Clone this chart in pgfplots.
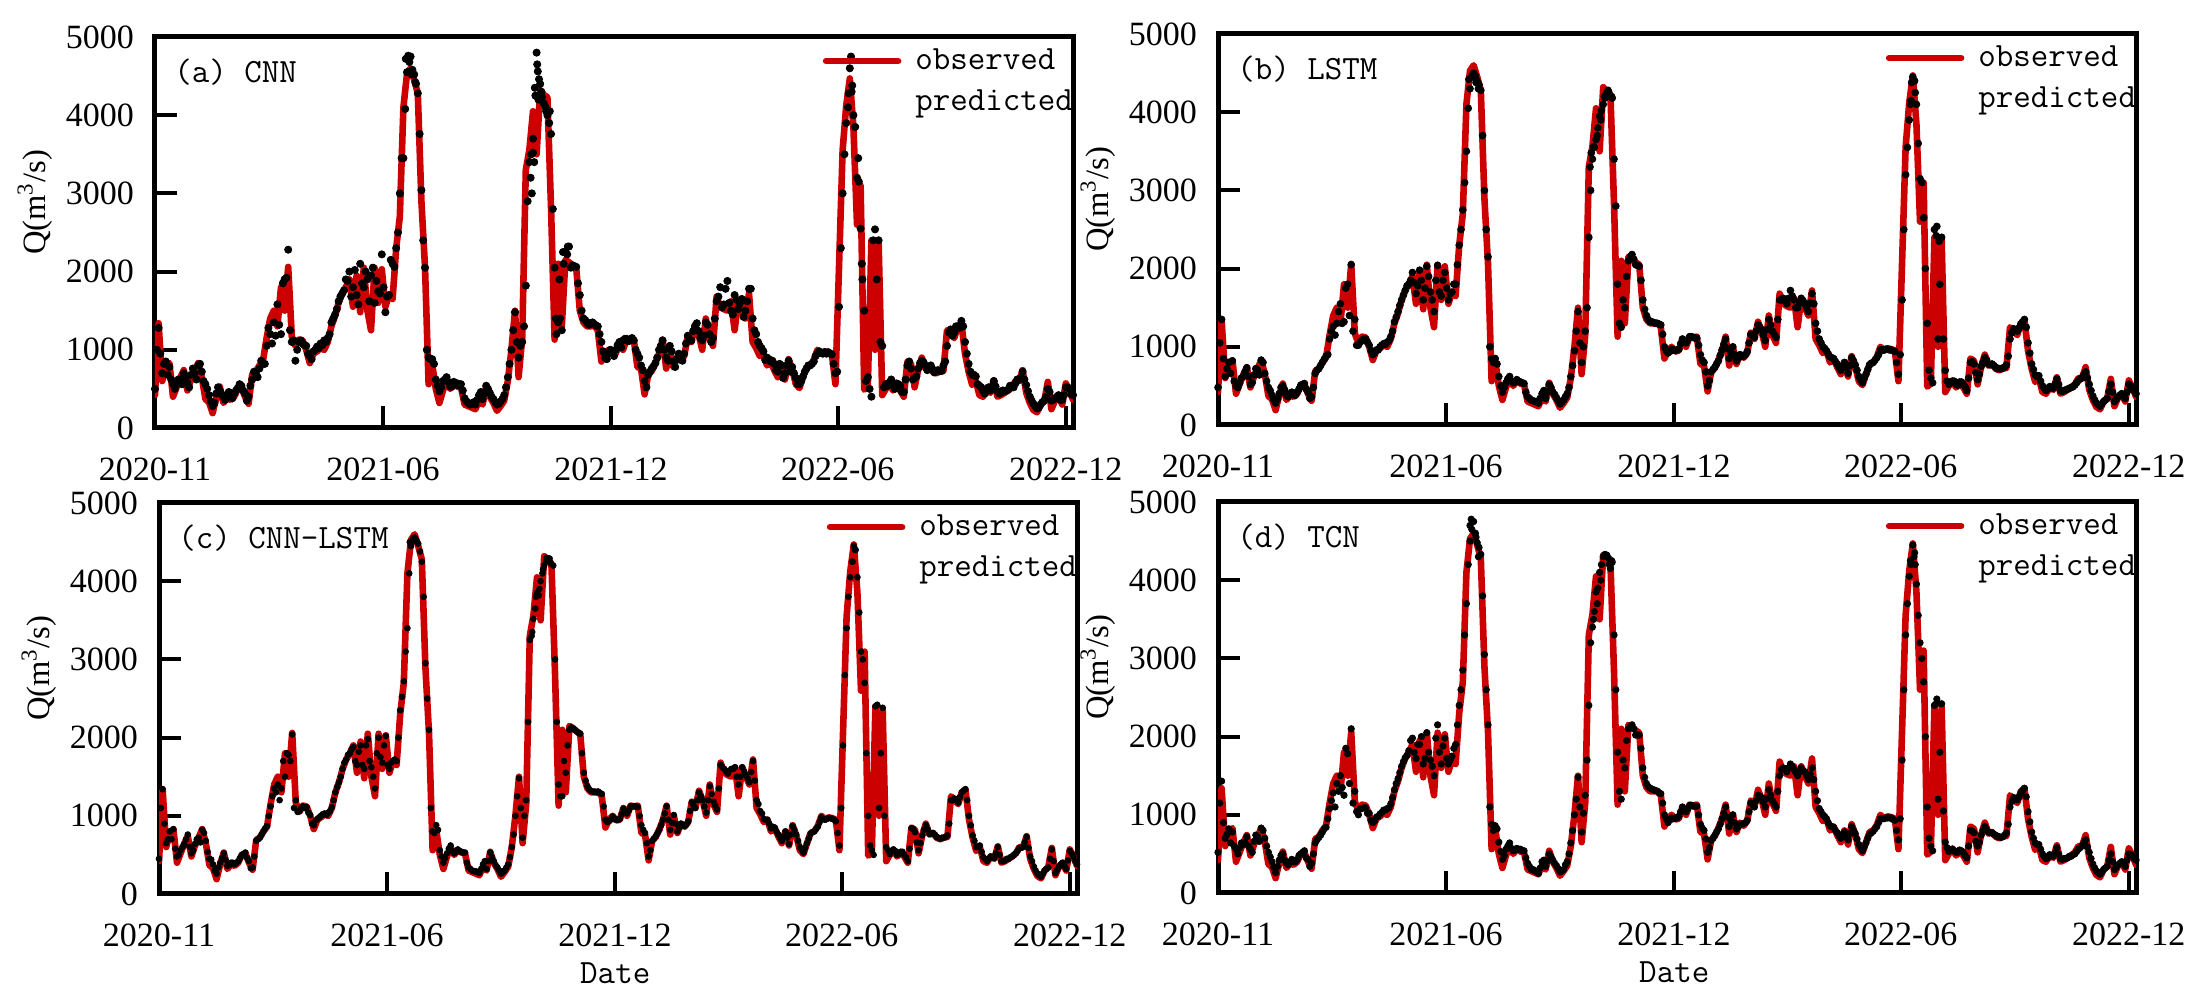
\documentclass[border=0pt]{standalone}
\usepackage{fontspec}
\usepackage{pgfplots}
\usepackage{pgfplotstable}
\pgfplotsset{compat=1.18}
\newfontfamily\tnr{Liberation Serif}
\definecolor{obsred}{RGB}{204,0,0}
\pgfplotstableread{
day obs a b c d
0 420 500 480 450 520
3 1340 1280 1350 1340 1430
6 600 700 620 650 700
9 780 850 800 800 820
12 830 780 820 830 780
15 400 560 500 480 560
18 520 560 540 560 580
21 640 620 620 640 620
24 740 700 730 760 720
27 480 580 520 520 560
30 620 680 640 640 660
33 720 700 700 720 720
36 830 800 830 820 830
39 650 720 660 680 700
42 370 560 480 450 520
45 330 420 380 380 400
48 190 280 280 260 260
51 380 440 400 400 420
54 530 480 500 520 500
57 320 400 380 360 380
60 380 400 400 400 400
63 360 420 390 380 400
66 400 440 420 420 430
69 500 510 510 500 500
72 520 540 530 530 540
75 400 440 420 420 430
78 310 400 360 340 380
81 690 620 660 680 640
84 720 700 720 720 710
87 800 760 800 800 780
90 860 820 880 870 840
93 1150 1050 1100 1120 1080
96 1400 1200 1260 1350 1280
99 1500 1350 1300 1400 1400
102 1300 1580 1550 1350 1500
105 1800 1200 1320 1500 1250
108 1500 1900 1800 1780 1780
111 2060 2280 2050 2040 2100
114 1170 1100 1350 1200 1300
117 1050 860 1020 1060 1000
120 1130 1100 1080 1120 1080
123 1120 1080 1100 1110 1090
126 1000 1050 1020 1010 1020
129 830 920 900 880 900
132 950 980 960 960 970
135 980 1040 1000 1000 1010
138 1020 1080 1040 1030 1060
141 1000 1120 1060 1040 1080
144 1100 1150 1130 1110 1140
147 1300 1350 1320 1300 1320
150 1430 1450 1450 1430 1460
153 1600 1620 1600 1600 1620
156 1720 1720 1720 1720 1730
159 1800 1900 1800 1800 1820
162 1900 2000 1950 1880 1980
165 1550 1800 1680 1650 1720
168 1950 1700 1980 1900 1900
171 1480 2100 1600 1600 1650
174 2050 1800 2030 1980 2050
177 1500 1900 1700 1620 1700
180 1250 1950 1450 1350 1500
183 2050 1600 2040 2000 2150
186 1600 1750 1650 1680 1650
189 2030 2220 1950 2020 1980
192 1550 1480 1600 1600 1650
195 1700 1700 1700 1700 1750
198 1650 2100 1800 1700 1900
201 2300 2300 2300 2350 2400
204 2700 3000 2750 2720 2850
207 4100 3450 3500 3400 3700
210 4530 4550 4300 4450 4500
213 4600 4750 4500 4560 4750
216 4450 4520 4400 4480 4480
219 4280 4280 4280 4250 4330
222 2900 3040 3000 2950 3050
225 2060 2050 2150 2100 2150
228 560 900 850 800 880
231 820 880 850 880 860
234 500 620 620 560 650
237 320 470 420 400 430
240 480 600 540 520 560
243 600 650 620 620 640
246 500 530 540 520 540
249 560 590 580 570 570
252 530 570 550 540 560
255 520 560 530 530 540
258 300 380 360 340 380
261 280 320 320 300 300
264 260 310 300 290 280
267 240 300 280 270 250
270 350 420 400 380 400
273 300 370 340 320 340
276 540 540 520 530 500
279 400 450 420 420 420
282 320 370 350 340 350
285 220 300 270 260 270
288 280 340 320 300 300
291 350 420 400 380 400
294 600 650 620 600 640
297 1000 1000 950 1000 1000
300 1500 1480 1450 1480 1480
303 650 900 800 720 780
306 1150 1100 1200 1200 1250
309 3300 1820 2400 3250 2400
312 3560 3400 3400 3520 3400
315 4050 3700 3650 3850 3850
318 3500 4800 3950 4000 4100
321 4320 4400 4100 4200 4300
324 4260 4150 4250 4280 4320
327 4230 4000 4200 4220 4150
330 2830 3760 3400 3000 3300
333 1130 2050 1800 1400 1800
336 2100 1350 1250 1250 1200
339 1300 1250 1500 1550 1600
342 2150 2250 2100 2100 2100
345 2120 2320 2180 2120 2150
348 2080 2080 2050 2080 2020
351 2050 2060 2030 2050 2020
354 1500 1700 1600 1550 1600
357 1350 1400 1400 1380 1400
360 1300 1350 1320 1320 1340
363 1300 1340 1310 1310 1320
366 1310 1330 1300 1310 1300
369 1250 1300 1280 1280 1270
372 850 1100 1000 950 1000
375 950 900 920 930 900
378 1000 950 970 990 960
381 940 980 950 950 960
384 950 1000 970 960 980
387 1100 1100 1100 1090 1100
390 1000 1120 1050 1030 1040
393 1130 1140 1130 1120 1120
396 1120 1120 1120 1120 1110
399 1130 1120 1110 1110 1110
402 780 950 900 880 880
405 760 800 800 780 800
408 430 600 500 480 520
411 680 680 680 680 670
414 730 760 740 740 740
417 830 830 820 820 820
420 950 1000 960 950 950
423 1130 1120 1100 1120 1100
426 760 900 850 820 850
429 1000 1050 1000 1010 1000
432 780 850 820 800 820
435 900 880 900 900 880
438 860 920 880 870 890
441 920 950 940 930 930
444 1180 1180 1160 1170 1150
447 1100 1120 1120 1100 1100
450 1320 1300 1280 1300 1250
453 1200 1240 1220 1200 1220
456 1000 1120 1080 1040 1100
459 1400 1350 1350 1380 1320
462 1150 1200 1200 1180 1180
465 1050 1150 1120 1080 1100
468 1680 1620 1600 1650 1500
471 1550 1800 1620 1600 1600
474 1520 1580 1550 1540 1550
477 1500 1880 1720 1600 1650
480 1620 1500 1600 1620 1580
483 1250 1700 1500 1400 1500
486 1620 1520 1620 1620 1600
489 1500 1650 1550 1520 1550
492 1400 1500 1450 1430 1450
495 1720 1780 1680 1700 1600
498 1100 1400 1300 1200 1300
501 1020 1200 1100 1060 1080
504 920 1050 1000 960 1000
507 950 980 950 950 950
510 800 900 870 840 860
513 850 850 850 850 840
516 740 820 780 760 770
519 650 720 700 680 700
522 800 800 800 800 780
525 620 700 660 640 680
528 880 860 860 870 850
531 750 780 770 760 760
534 560 640 620 600 620
537 510 560 540 530 540
540 650 660 650 650 640
543 780 760 770 770 750
546 800 800 800 800 790
549 870 850 860 860 850
552 1000 950 960 980 950
555 950 960 960 950 950
558 980 970 970 970 960
561 970 970 960 960 960
564 950 940 940 930 930
567 560 700 650 620 680
570 2060 1550 1600 1900 1700
573 3550 3000 3200 3400 3300
576 4120 3900 3900 4050 4050
579 4470 4600 4450 4450 4450
582 3850 4000 4100 4050 3950
585 2600 3200 3150 3100 3200
588 3100 2550 2650 2700 2700
591 490 1500 1300 1000 1100
594 530 650 600 560 600
597 2400 400 2500 2400 2400
600 1000 2540 1100 1100 1200
603 2380 2400 2400 2380 2420
606 420 1050 700 600 650
609 500 560 520 510 530
612 570 580 560 570 560
615 480 540 520 500 520
618 530 570 550 540 550
621 480 540 520 500 520
624 400 460 440 420 450
627 850 800 800 840 800
630 820 760 780 790 770
633 520 640 580 560 600
636 750 760 750 750 740
639 900 860 860 880 850
642 760 800 780 770 780
645 780 780 780 780 770
648 720 750 740 730 740
651 700 730 720 710 720
654 720 730 730 720 720
657 730 800 770 750 770
660 1250 1050 1100 1200 1100
663 1200 1260 1230 1220 1220
666 1150 1220 1200 1170 1190
669 1300 1300 1290 1300 1280
672 1340 1370 1350 1340 1340
675 950 1100 1050 1000 1040
678 720 820 780 750 780
681 550 680 640 600 640
684 600 660 630 620 620
687 420 540 500 470 500
690 400 470 440 420 440
693 480 500 490 480 490
696 450 480 470 460 470
699 610 600 590 600 580
702 400 470 440 420 440
705 420 450 440 430 440
708 450 470 460 450 450
711 480 490 480 480 470
714 520 520 510 520 500
717 600 570 570 590 560
720 600 620 600 600 600
723 740 720 680 730 680
726 450 550 520 480 520
729 320 400 370 350 370
732 230 310 280 260 280
735 200 250 240 220 240
738 300 300 300 300 300
741 340 350 340 340 340
744 590 500 520 570 500
747 240 350 300 270 300
750 350 380 360 350 360
753 400 420 400 400 400
756 300 360 340 320 340
759 570 520 520 550 500
762 480 500 480 480 480
765 360 420 400 380 420
}\dataT
\pgfplotstableread{
day a b c d
1.5 1000 1050 1100 1150
4.5 950 850 900 900
7.5 820 720 700 750
10.5 680 660 700 640
13.5 620 560 580 600
16.5 500 480 500 500
19.5 620 600 600 640
22.5 560 680 700 650
25.5 640 620 600 600
28.5 520 540 560 520
31.5 760 720 700 740
34.5 620 640 660 660
37.5 820 800 780 800
40.5 600 560 540 600
43.5 500 440 440 460
46.5 340 320 300 330
49.5 320 330 340 340
52.5 520 480 460 480
55.5 430 450 440 420
58.5 360 360 370 360
61.5 460 420 400 430
64.5 380 380 400 400
67.5 480 460 460 480
70.5 560 520 510 520
73.5 480 460 460 450
76.5 350 340 330 340
79.5 540 480 480 500
82.5 720 700 700 680
85.5 650 760 760 740
88.5 860 840 840 820
91.5 820 900 1000 950
94.5 1280 1200 1250 1180
97.5 1080 1150 1300 1100
100.5 1180 1450 1200 1300
103.5 1320 1300 1700 1350
106.5 1850 1750 1800 1850
109.5 1920 1400 1700 1400
112.5 1250 1200 1100 1150
115.5 1120 1020 1050 1040
118.5 1000 1060 1100 1080
121.5 1120 1100 1100 1090
124.5 1060 1060 1040 1020
127.5 950 950 900 930
130.5 880 920 940 920
133.5 1000 960 980 980
136.5 1020 1020 1020 1030
139.5 1060 1030 1010 1060
142.5 1100 1080 1060 1090
145.5 1200 1200 1200 1220
148.5 1400 1380 1370 1400
151.5 1520 1530 1500 1540
154.5 1680 1660 1680 1680
157.5 1760 1780 1780 1760
160.5 1880 1850 1850 1950
163.5 1680 1820 1700 1800
166.5 2020 1780 1820 1900
169.5 1580 1850 1650 2000
172.5 1850 1750 1900 1720
175.5 2000 1900 1700 1800
178.5 1620 1600 1500 1620
181.5 2050 1850 1800 1980
184.5 1880 1700 1750 1800
187.5 1720 1850 1900 1880
190.5 1800 1750 1650 1720
193.5 1680 1680 1680 1700
196.5 2150 1800 1720 1850
199.5 2060 2050 2000 2150
202.5 2500 2500 2520 2600
205.5 3450 3100 3100 3300
208.5 4080 4050 4100 4200
211.5 4550 4450 4520 4650
214.5 4580 4460 4520 4600
217.5 4400 4350 4380 4420
220.5 3760 3700 3800 3800
223.5 2400 2500 2500 2600
226.5 1000 1000 1100 1100
229.5 880 800 780 800
232.5 820 780 820 820
235.5 540 500 480 530
238.5 520 480 460 480
241.5 620 590 580 600
244.5 590 560 550 570
247.5 530 550 540 550
250.5 560 560 550 560
253.5 540 540 530 540
256.5 480 420 400 450
259.5 340 340 320 340
262.5 300 310 290 300
265.5 330 300 280 280
268.5 360 340 320 320
271.5 460 440 420 420
274.5 440 420 420 410
277.5 500 480 470 460
280.5 400 390 370 380
283.5 330 310 300 310
286.5 310 290 280 280
289.5 370 360 340 360
292.5 520 480 470 500
295.5 820 760 760 800
298.5 1250 1200 1250 1200
301.5 1100 1050 1100 1100
304.5 1050 1000 1000 1020
307.5 1300 1500 2200 1700
310.5 2900 3000 3300 3200
313.5 3500 3550 3650 3600
316.5 4350 3800 3820 3900
319.5 4200 4020 4100 4200
322.5 4230 4180 4250 4330
325.5 4100 4260 4290 4280
328.5 3900 4180 4200 4230
331.5 2800 2800 2200 2600
334.5 1200 1300 1250 1300
337.5 1400 1600 1700 1700
340.5 2100 1900 1900 1950
343.5 2220 2130 2130 2130
346.5 2050 2120 2100 2100
349.5 2070 2040 2060 2020
352.5 1850 1850 1800 1850
355.5 1500 1480 1450 1480
358.5 1380 1350 1340 1360
361.5 1320 1320 1310 1330
364.5 1350 1300 1300 1310
367.5 1310 1290 1290 1280
370.5 1200 1160 1120 1150
373.5 980 950 920 950
376.5 880 940 950 930
379.5 1000 960 960 950
382.5 920 960 950 960
385.5 1060 1040 1020 1040
388.5 1030 1080 1060 1070
391.5 1140 1090 1070 1080
394.5 1110 1130 1120 1120
397.5 1150 1110 1120 1110
400.5 1000 1020 1000 1000
403.5 900 830 820 830
406.5 740 680 650 690
409.5 520 570 560 580
412.5 720 710 710 700
415.5 790 780 780 780
418.5 900 890 880 880
421.5 1050 1030 1030 1020
424.5 1000 980 950 970
427.5 860 920 910 920
430.5 980 900 900 900
433.5 780 860 850 850
436.5 950 880 880 880
439.5 860 900 890 900
442.5 1080 1050 1060 1040
445.5 1120 1140 1130 1130
448.5 1240 1200 1200 1180
451.5 1340 1250 1250 1240
454.5 1150 1150 1120 1160
457.5 1180 1220 1200 1210
460.5 1320 1280 1280 1250
463.5 1100 1160 1130 1140
466.5 1400 1350 1350 1300
469.5 1680 1600 1620 1580
472.5 1540 1580 1570 1580
475.5 1780 1620 1580 1600
478.5 1600 1650 1600 1620
481.5 1450 1500 1500 1540
484.5 1640 1560 1500 1550
487.5 1590 1590 1570 1570
490.5 1420 1500 1480 1500
493.5 1620 1560 1560 1520
496.5 1780 1550 1450 1450
499.5 1250 1200 1150 1180
502.5 1100 1050 1030 1040
505.5 1020 980 950 980
508.5 870 910 900 900
511.5 880 860 860 850
514.5 860 810 800 800
517.5 740 740 720 730
520.5 820 750 740 750
523.5 640 730 720 720
526.5 800 760 760 760
529.5 720 820 820 800
532.5 700 700 680 690
535.5 560 580 570 580
538.5 600 600 590 590
541.5 720 710 710 700
544.5 800 790 790 770
547.5 820 830 830 820
550.5 920 900 920 900
553.5 980 960 960 950
556.5 950 970 960 960
559.5 950 960 970 960
562.5 950 950 950 940
565.5 820 800 780 800
568.5 720 900 1100 950
571.5 2300 2500 2800 2600
574.5 3500 3550 3800 3700
577.5 4100 4150 4250 4200
580.5 4300 4400 4400 4350
583.5 3850 3600 3600 3550
586.5 3150 3100 3000 3000
589.5 1900 2000 1800 2000
592.5 600 700 620 700
595.5 500 540 500 540
598.5 2400 2420 2420 2420
601.5 1900 1800 1800 1800
604.5 1100 1100 1000 1050
607.5 520 560 560 580
610.5 540 540 540 550
613.5 620 560 550 540
616.5 500 510 510 520
619.5 560 550 540 540
622.5 460 490 470 480
625.5 620 600 580 600
628.5 850 810 830 790
631.5 620 670 660 660
634.5 660 650 650 650
637.5 830 800 820 800
640.5 840 830 830 810
643.5 740 770 770 770
646.5 800 760 760 750
649.5 710 720 720 720
652.5 740 720 720 710
655.5 730 740 730 740
658.5 850 880 900 880
661.5 1220 1180 1200 1170
664.5 1180 1220 1200 1210
667.5 1300 1240 1240 1230
670.5 1280 1320 1320 1310
673.5 1300 1250 1200 1230
676.5 950 920 880 910
679.5 720 710 680 700
682.5 680 620 600 620
685.5 560 560 540 560
688.5 520 470 450 470
691.5 440 460 450 450
694.5 520 480 470 480
697.5 530 520 520 510
700.5 530 520 500 500
703.5 440 430 420 430
706.5 480 450 450 440
709.5 480 470 470 470
712.5 540 490 500 490
715.5 520 540 550 530
718.5 620 590 590 580
721.5 640 640 660 640
724.5 620 600 590 590
727.5 470 440 420 440
730.5 350 320 300 320
733.5 280 260 240 260
736.5 260 270 260 270
739.5 330 320 320 320
742.5 400 430 450 420
745.5 460 420 420 400
748.5 360 330 310 330
751.5 400 380 380 380
754.5 360 370 360 370
757.5 420 420 430 420
760.5 520 500 520 490
763.5 430 440 420 440
}\dataU
\pgfplotstableread{
d v
317 4250
318.5 4650
319 4560
320 4460
315 3520
313 3200
314 3000
316 3400
322 4300
326 4050
329 4050
209 4720
211 4760
212 4680
214 4520
217 4420
344 2320
340 2250
337 1900
334 1400
580 4750
581 4380
586 3450
578 4280
589 2100
}\extraA
\pgfplotstableread{
d v
310 3300
311 3480
313 3560
316 3700
319 3900
322 4200
325 4280
328 4200
209 4420
212 4480
215 4380
217 4300
578 4380
577 4100
581 4250
599 2540
601 2350
344 2160
}\extraB
\pgfplotstableread{
d v
311 3350
314 3800
317 3900
320 4150
323 4300
326 4240
209 4500
212 4550
215 4500
578 4250
580 4400
}\extraC
\pgfplotstableread{
d v
210 4700
211 4780
214 4600
215 4550
217 4300
313 3500
316 3700
319 4000
322 4320
326 4200
328 4250
577 4250
580 4300
581 4200
599 2480
}\extraD
\newcommand{\mono}{\fontsize{17}{19}\selectfont\ttfamily}
\pgfplotsset{
  panel/.style={
    scale only axis, width=459pt, height=195.5pt, anchor=south west,
    xmin=0, xmax=765, ymin=0, ymax=5000,
    xtick={0,190,380,569,759},
    xticklabels={2020-11,2021-06,2021-12,2022-06,2022-12},
    ytick={0,1000,2000,3000,4000,5000},
    yticklabels={0,1000,2000,3000,4000,5000},
    tick align=inside, xtick pos=bottom, ytick pos=left,
    major tick length=11pt,
    axis line style={line width=2.5pt,black},
    tick style={line width=2pt,black},
    tick label style={font=\fontsize{17}{19}\selectfont\tnr},
    xticklabel style={yshift=-11.5pt},
    yticklabel style={xshift=-7pt},
    ylabel style={font=\fontsize{16.3}{18}\selectfont\tnr},
    xlabel style={font=\mono},
    ylabel={Q(m\textsuperscript{3}/s)},
    every axis y label/.append style={at={(axis description cs:-0.131,0.577)},anchor=center},
    every axis x label/.append style={at={(axis description cs:0.497,-0.202)},anchor=center},
    legend style={at={(0.727,0.98)},anchor=north west,draw=none,fill=none,inner sep=0pt,
      font=\mono,row sep=4.5pt},
    legend cell align=left,
    legend image code/.code={\draw[##1] (0pt,0pt)--(36pt,0pt);\path (41pt,0pt);},
  },
}
\newcommand{\panel}[6]{%
\begin{axis}[panel,at={(#1pt,#2pt)},#6]
\addplot[obsred,line width=3.3pt,line join=round,line cap=round] table[x=day,y=obs] {\dataT};
\addlegendentry{observed}
\addplot[only marks,mark=*,mark size=#5pt,black,forget plot] table[x=day,y=#4] {\dataT};
\addplot[only marks,mark=*,mark size=#5pt,black,forget plot] table[x=day,y=#4] {\dataU};
\addplot[only marks,mark=*,mark size=#5pt,black,forget plot] table[x=d,y=v] {#3};
\addlegendimage{legend image code/.code={}}
\addlegendentry{predicted}
\end{axis}}
\begin{document}
\begin{tikzpicture}
\path[use as bounding box] (0,0) rectangle (1102pt,499.5pt);
\panel{77.5}{285.5}{\extraA}{a}{1.8}{}
\node[anchor=west,inner sep=0pt,font=\mono] at (87pt,463.5pt) {(a) CNN};
\panel{609}{287}{\extraB}{b}{1.7}{}
\node[anchor=west,inner sep=0pt,font=\mono] at (618.5pt,465pt) {(b) LSTM};
\panel{79.5}{52.5}{\extraC}{c}{1.45}{xlabel={Date}}
\node[anchor=west,inner sep=0pt,font=\mono] at (89pt,230.5pt) {(c) CNN-LSTM};
\panel{609}{53}{\extraD}{d}{1.6}{xlabel={Date}}
\node[anchor=west,inner sep=0pt,font=\mono] at (618.5pt,231pt) {(d) TCN};
\end{tikzpicture}
\end{document}
